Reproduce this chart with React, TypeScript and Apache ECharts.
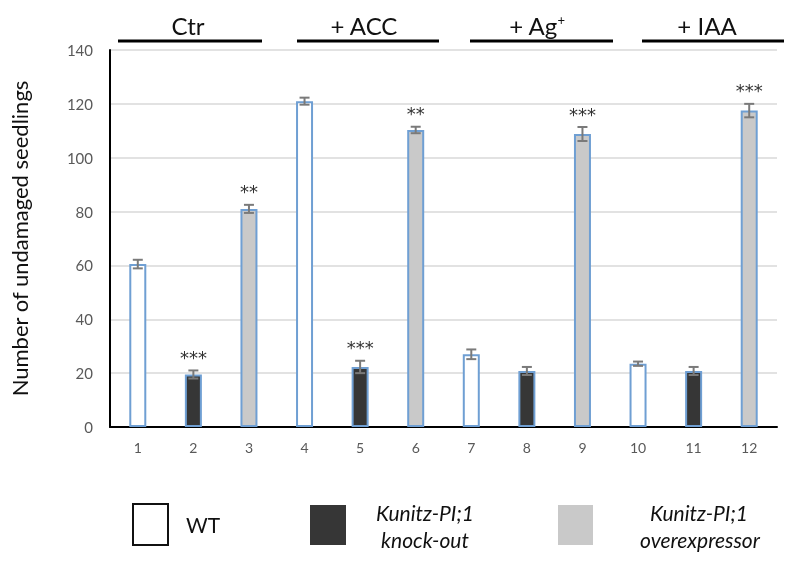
import React, { useEffect, useRef } from "react";
import * as echarts from "echarts";

const categories = ["1", "2", "3", "4", "5", "6", "7", "8", "9", "10", "11", "12"];
const values = [60.5, 19.5, 81, 121, 22.3, 110.3, 27, 20.8, 108.8, 23.5, 20.8, 117.5];
const errors = [1.6, 1.5, 1.5, 1.3, 2.3, 1.2, 1.8, 1.5, 2.6, 0.8, 1.5, 2.5];
const genotypes = ["WT", "KO", "OE", "WT", "KO", "OE", "WT", "KO", "OE", "WT", "KO", "OE"];
const stars = ["", "***", "**", "", "***", "**", "", "", "***", "", "", "***"];
const groupLabels = ["Ctr", "+ ACC", "+ Ag{sup|+}", "+ IAA"];
const yTicks = [0, 20, 40, 60, 80, 100, 120, 140];

const FONT = "Lato, 'Noto Sans', sans-serif";
const fillColors: Record<string, string> = { WT: "#ffffff", KO: "#363636", OE: "#c9c9c9" };
const BORDER = "#6f9fd3";

export default function App() {
  const ref = useRef<HTMLDivElement>(null);
  useEffect(() => {
    if (!ref.current) return;
    const chart = echarts.init(ref.current, undefined, { renderer: "svg" });

    const groupLines = [
      [118, 262],
      [297, 439],
      [470, 613],
      [642, 784],
    ];
    const groupCenters = [188, 364, 537, 707];

    const graphics: any[] = [];
    groupLabels.forEach((g, i) => {
      graphics.push({
        type: "text",
        x: groupCenters[i],
        y: 25,
        style: {
          text: g,
          font: `24px ${FONT}`,
          fill: "#111",
          align: "center",
          verticalAlign: "middle",
          rich: {
            sup: { fontSize: 13, fontFamily: FONT, verticalAlign: "top", fill: "#111", padding: [0, 0, 10, 0] },
          },
        },
      });
      graphics.push({
        type: "line",
        shape: { x1: groupLines[i][0], y1: 41, x2: groupLines[i][1], y2: 41 },
        style: { stroke: "#000", lineWidth: 3 },
      });
    });

    const legendFont = `italic 21px ${FONT}`;
    graphics.push(
      { type: "rect", shape: { x: 133, y: 504, width: 35, height: 41 }, style: { fill: "#fff", stroke: "#111", lineWidth: 2 } },
      { type: "text", x: 186, y: 524, style: { text: "WT", font: `21px ${FONT}`, fill: "#111", verticalAlign: "middle" } },
      { type: "rect", shape: { x: 310, y: 505, width: 36, height: 40 }, style: { fill: "#363636" } },
      { type: "text", x: 425, y: 512, style: { text: "Kunitz-PI;1", font: legendFont, fill: "#111", align: "center", verticalAlign: "middle" } },
      { type: "text", x: 425, y: 539, style: { text: "knock-out", font: legendFont, fill: "#111", align: "center", verticalAlign: "middle" } },
      { type: "rect", shape: { x: 558, y: 505, width: 35, height: 40 }, style: { fill: "#c9c9c9" } },
      { type: "text", x: 699, y: 512, style: { text: "Kunitz-PI;1", font: legendFont, fill: "#111", align: "center", verticalAlign: "middle" } },
      { type: "text", x: 700, y: 539, style: { text: "overexpressor", font: legendFont, fill: "#111", align: "center", verticalAlign: "middle" } }
    );

    const option: any = {
      animation: false,
      textStyle: { fontFamily: FONT },
      grid: { left: 110, right: 23, top: 50, bottom: 134, containLabel: false },
      xAxis: {
        type: "category",
        data: categories,
        axisLine: { lineStyle: { color: "#000", width: 2 } },
        axisTick: { show: false },
        axisLabel: { color: "#595959", fontSize: 14, margin: 13, fontFamily: FONT },
      },
      yAxis: {
        type: "value",
        min: yTicks[0],
        max: yTicks[yTicks.length - 1],
        interval: 20,
        name: "Number of undamaged seedlings",
        nameLocation: "middle",
        nameGap: 80,
        nameTextStyle: { fontSize: 22, color: "#111", fontFamily: FONT },
        axisLine: { show: true, lineStyle: { color: "#000", width: 2 } },
        axisTick: { show: false },
        axisLabel: { color: "#595959", fontSize: 15, margin: 17, fontFamily: FONT },
        splitLine: { lineStyle: { color: "#d9d9d9", width: 1.5 } },
      },
      series: [
        {
          type: "bar",
          barWidth: 17,
          data: values.map((v, i) => ({
            value: v,
            itemStyle: { color: fillColors[genotypes[i]], borderColor: BORDER, borderWidth: 2 },
          })),
          z: 2,
        },
        {
          type: "custom",
          z: 5,
          data: values.map((v, i) => [i, v, errors[i]]),
          renderItem: (params: any, api: any) => {
            const idx = api.value(0);
            const v = api.value(1);
            const e = api.value(2);
            const top = api.coord([idx, v + e]);
            const bot = api.coord([idx, v - e]);
            const x = top[0];
            const cap = 5;
            const children: any[] = [
              { type: "line", shape: { x1: x, y1: top[1], x2: x, y2: bot[1] }, style: { stroke: "#7a7a7a", lineWidth: 2 } },
              { type: "line", shape: { x1: x - cap, y1: top[1], x2: x + cap, y2: top[1] }, style: { stroke: "#7a7a7a", lineWidth: 2 } },
              { type: "line", shape: { x1: x - cap, y1: bot[1], x2: x + cap, y2: bot[1] }, style: { stroke: "#7a7a7a", lineWidth: 2 } },
            ];
            const s = stars[params.dataIndex];
            if (s) {
              children.push({
                type: "text",
                x: x,
                y: top[1] - 4,
                style: {
                  text: s,
                  font: `18px 'DejaVu Sans', sans-serif`,
                  fill: "#333",
                  align: "center",
                  verticalAlign: "bottom",
                },
              });
            }
            return { type: "group", children };
          },
        },
      ],
      graphic: graphics,
    };
    chart.setOption(option);
    return () => chart.dispose();
  }, []);
  return <div ref={ref} style={{ position: "fixed", left: 0, top: 0, width: 800, height: 561 }} />;
}
